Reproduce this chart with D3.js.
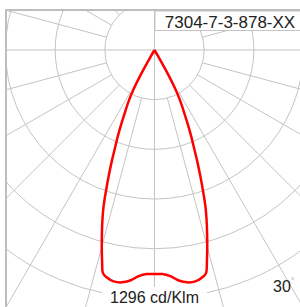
<!DOCTYPE html>
<html>
<head>
<meta charset="utf-8">
<script src="https://cdn.jsdelivr.net/npm/d3@7"></script>
<style>
  body { margin: 0; background: #fff; }
  svg { display: block; }
</style>
</head>
<body>
<div id="chart"></div>
<script>
// luminous intensity distribution, symmetric (deg from nadir -> cd/klm)
const angles = [0, 2, 4, 6, 8, 10, 12, 13, 14, 15, 16, 17, 18, 19, 20, 21, 22, 23, 24, 25, 26, 27, 28, 29, 30, 31];
const intensity = [1236, 1236, 1250, 1278, 1294, 1296, 1280, 1263, 1195, 1124, 1052, 983, 910, 822, 738, 658, 581, 519, 457, 398, 352, 307, 250, 162, 44, 0];
const ringValues = [274, 548, 822, 1096, 1370];
const spokeAngles = [0, 15, 30, 45, 60, 75, 90, 105, 120, 135, 150, 165, 180, 195, 210, 225, 240, 255, 270, 285, 300, 315, 330, 345];
const titleText = "7304-7-3-878-XX";
const maxLabel = "1296 cd/Klm";
const angleLabel = "30";

drawPolar();

function drawPolar() {
    const W = 300, H = 307;
    const cx = 154.5, cy = 50;
    const frame = { x: 6, y: 10 };

    const svg = d3.select("#chart").append("svg")
        .attr("width", W)
        .attr("height", H);

    svg.append("defs").append("clipPath")
        .attr("id", "clip")
        .append("rect")
        .attr("x", frame.x)
        .attr("y", frame.y)
        .attr("width", W)
        .attr("height", H);

    const r = d3.scaleLinear()
        .domain([0, 1296])
        .range([0, 235]);

    // 裁剪在外层, 平移在内层
    const grid = svg.append("g")
        .attr("clip-path", "url(#clip)")
        .append("g")
        .attr("transform", `translate(${cx},${cy})`);

    // 同心圆
    grid.selectAll(".ring")
        .data(ringValues)
        .enter().append("circle")
        .attr("class", "ring")
        .attr("r", d => r(d))
        .attr("fill", "none")
        .attr("stroke", "#c4c4c4")
        .attr("stroke-width", 1);

    // 径向线 (主轴从中心开始, 其余从第一圈开始)
    const toRad = d => d * Math.PI / 180;
    grid.selectAll(".spoke")
        .data(spokeAngles)
        .enter().append("line")
        .attr("class", "spoke")
        .attr("x1", d => (d % 90 === 0 ? 0 : r(ringValues[0])) * Math.sin(toRad(d)))
        .attr("y1", d => (d % 90 === 0 ? 0 : r(ringValues[0])) * Math.cos(toRad(d)))
        .attr("x2", d => 500 * Math.sin(toRad(d)))
        .attr("y2", d => 500 * Math.cos(toRad(d)))
        .attr("stroke", "#c4c4c4")
        .attr("stroke-width", 1);

    // 配光曲线 (左右对称)
    const pts = [];
    for (let i = angles.length - 1; i > 0; i--) pts.push([-angles[i], intensity[i]]);
    for (let i = 0; i < angles.length; i++) pts.push([angles[i], intensity[i]]);

    const line = d3.lineRadial()
        .angle(d => Math.PI - toRad(d[0]))
        .radius(d => r(d[1]))
        .curve(d3.curveCatmullRom.alpha(0.5));

    svg.append("path")
        .attr("transform", `translate(${cx},${cy})`)
        .attr("d", line(pts))
        .attr("fill", "none")
        .attr("stroke", "#ff0000")
        .attr("stroke-width", 2.5)
        .attr("stroke-linejoin", "round");

    // 外框
    svg.append("line")
        .attr("x1", frame.x).attr("x2", W)
        .attr("y1", frame.y).attr("y2", frame.y)
        .attr("stroke", "#bdbdbd").attr("stroke-width", 2);
    svg.append("line")
        .attr("x1", frame.x).attr("x2", frame.x)
        .attr("y1", frame.y - 1).attr("y2", H)
        .attr("stroke", "#bdbdbd").attr("stroke-width", 2);

    // 标题框
    svg.append("rect")
        .attr("x", 155)
        .attr("y", frame.y + 1)
        .attr("width", 160)
        .attr("height", 19.5)
        .attr("fill", "#fff")
        .attr("stroke", "#c4c4c4")
        .attr("stroke-width", 1);

    svg.append("text")
        .attr("x", 230)
        .attr("y", 28)
        .attr("text-anchor", "middle")
        .attr("font-family", "Liberation Sans, Arial, sans-serif")
        .attr("font-size", 17)
        .attr("fill", "#222")
        .text(titleText);

    // 底部最大值标签
    svg.append("rect")
        .attr("x", 102)
        .attr("y", 287)
        .attr("width", 105)
        .attr("height", 20)
        .attr("fill", "#fff");

    svg.append("text")
        .attr("x", cx)
        .attr("y", 303)
        .attr("text-anchor", "middle")
        .attr("font-family", "Liberation Sans, Arial, sans-serif")
        .attr("font-size", 16)
        .attr("fill", "#222")
        .text(maxLabel);

    // 角度标签
    svg.append("text")
        .attr("x", 273)
        .attr("y", 292)
        .attr("font-family", "Liberation Sans, Arial, sans-serif")
        .attr("font-size", 16)
        .attr("fill", "#222")
        .text(angleLabel);

    svg.append("text")
        .attr("x", 291)
        .attr("y", 283)
        .attr("font-family", "Liberation Sans, Arial, sans-serif")
        .attr("font-size", 8)
        .attr("fill", "#888")
        .text("°");
}
</script>
</body>
</html>
